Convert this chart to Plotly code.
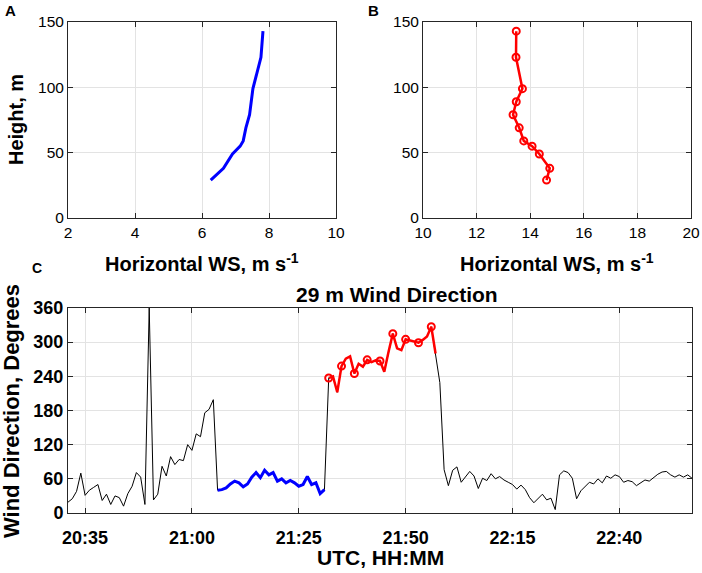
import pandas as pd
import plotly.graph_objects as go

W, H = 702, 573
FONT = "Liberation Sans, Arial, Helvetica, sans-serif"
INK = "#262626"
GRID = "#e3e3e3"

# panel A / B: wind speed profiles
heights = [29, 38, 49, 55, 59, 69, 79, 89, 99, 123, 143]
ws_blue = [6.26, 6.64, 6.91, 7.14, 7.23, 7.31, 7.42, 7.47, 7.52, 7.76, 7.82]
ws_red = [14.61, 14.73, 14.34, 14.07, 13.76, 13.59, 13.36, 13.48, 13.71, 13.47, 13.48]

# panel C: 29 m wind direction, one sample per minute from 20:31
wd_start = "2019-06-01 20:31"
wd_before = [19, 25, 38, 70, 31, 40, 45, 50, 22, 33, 15, 30, 27, 12, 34, 47, 71, 63,
             15, 360, 23, 33, 82, 65, 99, 85, 94, 92, 120, 110, 139, 134, 176, 182, 199]
wd_blue = [40, 41, 44, 51, 56, 53, 46, 51, 63, 71, 62, 75, 67, 71, 56, 60, 53, 57, 53,
           47, 50, 64, 50, 53, 34, 41]
wd_red = [237, 240, 212, 258, 271, 275, 245, 262, 257, 269, 265, 268, 267, 248, 283,
          315, 289, 286, 305, 303, 301, 299, 304, 310, 327, 280]
wd_after = [229, 76, 48, 75, 81, 54, 63, 73, 65, 43, 61, 57, 69, 60, 64, 58, 54, 50, 42,
            49, 41, 27, 18, 26, 33, 23, 26, 6, 67, 74, 71, 61, 25, 39, 47, 54, 51, 60,
            53, 65, 61, 67, 64, 54, 57, 55, 48, 53, 58, 56, 62, 68, 72, 73, 67, 63, 67,
            63, 67, 61]
time_ticks = ["20:35", "21:00", "21:25", "21:50", "22:15", "22:40"]

wd_all = wd_before + wd_blue + wd_red + wd_after
times = pd.date_range(wd_start, periods=len(wd_all), freq="min")
i_blue = len(wd_before)
i_red = i_blue + len(wd_blue)
t_blue = times[i_blue:i_red]
t_red = times[i_red:i_red + len(wd_red)]
day = wd_start.split()[0]
tickvals = [pd.Timestamp(f"{day} {t}") for t in time_ticks]


def px_x(p):
    return p / W


def px_y(p):
    return 1 - p / H


red_marker = dict(symbol="circle-open", size=7, color="#ff0000",
                  line=dict(width=2, color="#ff0000"))

fig = go.Figure()

fig.add_trace(go.Scatter(x=ws_blue, y=heights, mode="lines",
                         line=dict(color="#0000ff", width=3),
                         xaxis="x", yaxis="y"))
fig.add_trace(go.Scatter(x=ws_red, y=heights, mode="lines+markers",
                         line=dict(color="#ff0000", width=2.5), marker=red_marker,
                         xaxis="x2", yaxis="y2"))

fig.add_trace(go.Scatter(x=times, y=wd_all, mode="lines",
                         line=dict(color="black", width=1),
                         xaxis="x3", yaxis="y3"))
fig.add_trace(go.Scatter(x=t_blue, y=wd_blue, mode="lines",
                         line=dict(color="#0000ff", width=3),
                         xaxis="x3", yaxis="y3"))
fig.add_trace(go.Scatter(x=t_red, y=wd_red, mode="lines",
                         line=dict(color="#ff0000", width=2.5),
                         xaxis="x3", yaxis="y3"))
# circle on every third red sample
fig.add_trace(go.Scatter(x=t_red[::3], y=wd_red[::3], mode="markers",
                         marker=red_marker, xaxis="x3", yaxis="y3"))

common = dict(showline=True, linecolor=INK, linewidth=1, mirror="allticks",
              ticks="inside", ticklen=5, tickcolor=INK, showgrid=True,
              gridcolor=GRID, gridwidth=1, zeroline=False, color=INK,
              ticklabeloverflow="allow")
small_font = dict(family=FONT, size=15.5, color="black")
bold_font = dict(family=FONT, size=18, color="black", weight="bold")

top_a, bot_a = px_y(218), px_y(22)
fig.update_layout(
    xaxis=dict(domain=[px_x(68), px_x(336)], range=[2, 10], dtick=2, anchor="y",
               tickfont=small_font, **common),
    yaxis=dict(domain=[top_a, bot_a], range=[0, 150], dtick=50, anchor="x",
               tickfont=small_font, **common),
    xaxis2=dict(domain=[px_x(423), px_x(691)], range=[10, 20], dtick=2, anchor="y2",
                tickfont=small_font, **common),
    yaxis2=dict(domain=[top_a, bot_a], range=[0, 150], dtick=50, anchor="x2",
                tickfont=small_font, **common),
    xaxis3=dict(domain=[px_x(68), px_x(692)], type="date",
                range=[times[0], times[-1]], tickvals=tickvals, tickformat="%H:%M",
                anchor="y3", tickfont=bold_font, ticklabelstandoff=8, **common),
    yaxis3=dict(domain=[px_y(513), px_y(308)], range=[0, 360], dtick=60, anchor="x3",
                tickfont=bold_font, **common),
    width=W, height=H,
    margin=dict(l=0, r=0, t=0, b=0, autoexpand=False),
    plot_bgcolor="white", paper_bgcolor="white",
    showlegend=False,
)

labels = [
    ("A", 3, 10, 0, 15, "left"),
    ("B", 366, 10, 0, 15, "left"),
    ("C", 30, 268, 0, 14, "left"),
    ("Height, m", 16, 120, -90, 20, "center"),
    ("Horizontal WS, m s<sup>-1</sup>", 202, 262, 0, 20, "center"),
    ("Horizontal WS, m s<sup>-1</sup>", 557, 262, 0, 20, "center"),
    ("29 m Wind Direction", 397, 294, 0, 21, "center"),
    ("Wind Direction, Degrees", 11, 411, -90, 22, "center"),
    ("UTC, HH:MM", 380, 557, 0, 21, "center"),
]
for text, x, y, ang, size, anchor in labels:
    fig.add_annotation(text=f"<b>{text}</b>", x=px_x(x), y=px_y(y), xref="paper",
                       yref="paper", showarrow=False, textangle=ang,
                       xanchor=anchor, yanchor="middle",
                       font=dict(family=FONT, size=size, color="black"))

# the page's default body margin would push the 702 px figure off the window
fig.write_html("out.html", config={"displayModeBar": False},
               post_script="document.body.style.margin = '0';")
